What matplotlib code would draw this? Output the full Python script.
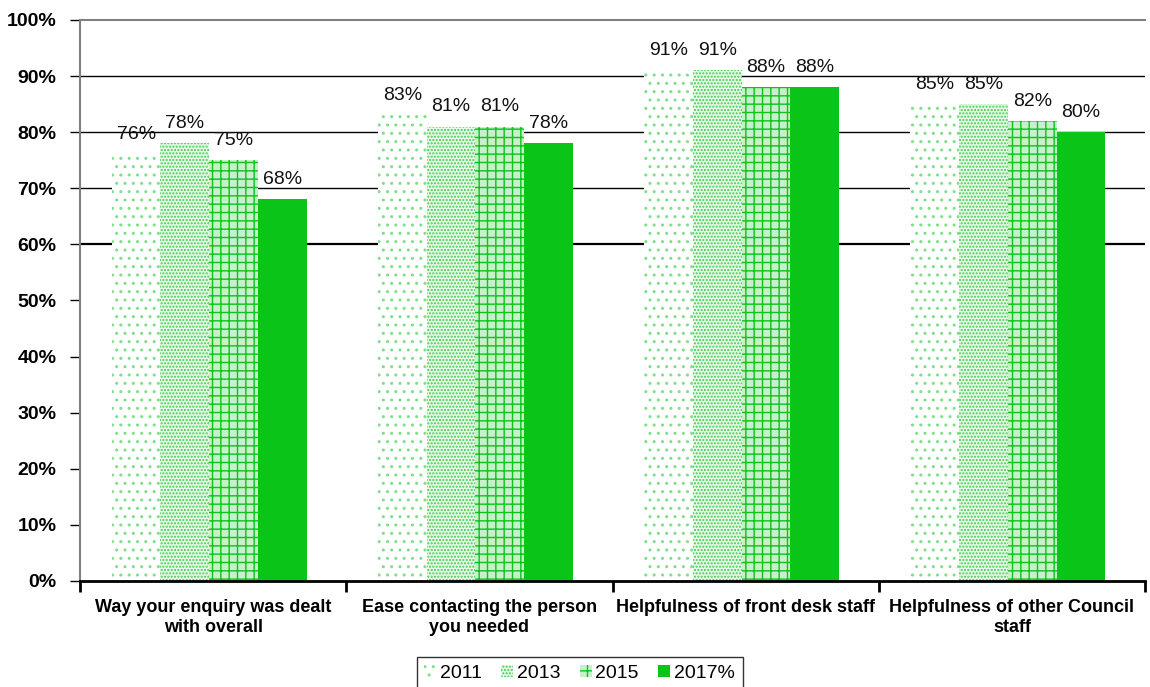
import numpy as np
import matplotlib.pyplot as plt

plt.rcParams['font.family'] = ['Liberation Sans', 'DejaVu Sans']
plt.rcParams['hatch.linewidth'] = 1.0

# survey questions and yearly satisfaction scores (%)
categories = [
    "Way your enquiry was dealt\nwith overall",
    "Ease contacting the person\nyou needed",
    "Helpfulness of front desk staff",
    "Helpfulness of other Council\nstaff",
]
years = ["2011", "2013", "2015", "2017%"]
vals_2011 = [76, 83, 91, 85]
vals_2013 = [78, 81, 91, 85]
vals_2015 = [75, 81, 88, 82]
vals_2017 = [68, 78, 88, 80]
series = [vals_2011, vals_2013, vals_2015, vals_2017]

green = '#0ac418'
styles = [
    dict(facecolor='white', edgecolor='#7fdf88', hatch='..'),
    dict(facecolor='#e8f8e9', edgecolor='#3ccc48', hatch='.....'),
    dict(facecolor='#c8f0cb', edgecolor=green, hatch='++'),
    dict(facecolor=green, edgecolor=green, hatch=None),
]

fig = plt.figure(figsize=(11.5, 6.87), dpi=100)
ax = fig.add_axes([0.0696, 0.1543, 0.9261, 0.8167])

x = np.arange(len(categories))
width = 0.183
offsets = (np.arange(4) - 1.5) * width - 0.015

# horizontal rules only across the upper band
for g in [60, 70, 80, 90]:
    ax.axhline(g, color='black', lw=1.6 if g == 60 else 1.0, zorder=0)

for vals, st, yr, off in zip(series, styles, years, offsets):
    bars = ax.bar(x + off, vals, width, linewidth=0, label=yr, zorder=2, **st)
    for b, v in zip(bars, vals):
        ax.annotate(f"{v}%", (b.get_x() + b.get_width() / 2, v),
                    xytext=(0, 8), textcoords='offset points',
                    ha='center', va='bottom', fontsize=14, color='#111111')

ax.set_xlim(-0.5, len(categories) - 0.5)
ax.set_ylim(0, 100)
ax.set_yticks(range(0, 101, 10))
ax.set_yticklabels([f"{t}%" for t in range(0, 101, 10)], fontsize=14, fontweight='bold')
ax.tick_params(axis='y', length=7, width=1, color='black', pad=10)

# category labels centred, tick marks at category boundaries
ax.set_xticks(x)
ax.set_xticklabels(categories, fontsize=13, fontweight='bold', linespacing=1.2)
ax.tick_params(axis='x', length=0, pad=13)
ax.set_xticks(np.arange(len(categories) + 1) - 0.5, minor=True)
ax.tick_params(axis='x', which='minor', length=8, width=2, color='black')

ax.spines['right'].set_visible(False)
ax.spines['top'].set_color('#808080')
ax.spines['top'].set_linewidth(1.5)
ax.spines['left'].set_color('#808080')
ax.spines['left'].set_linewidth(1.5)
ax.spines['bottom'].set_color('black')
ax.spines['bottom'].set_linewidth(2)

leg = fig.legend(loc='lower center', bbox_to_anchor=(0.504, -0.018), ncol=4,
                 fontsize=14, frameon=True, fancybox=False, edgecolor='black',
                 handlelength=0.6, handleheight=0.6, handletextpad=0.2,
                 columnspacing=1.0, borderpad=0.4)
leg.get_frame().set_linewidth(1.0)

fig.savefig('out.png', dpi=100)
